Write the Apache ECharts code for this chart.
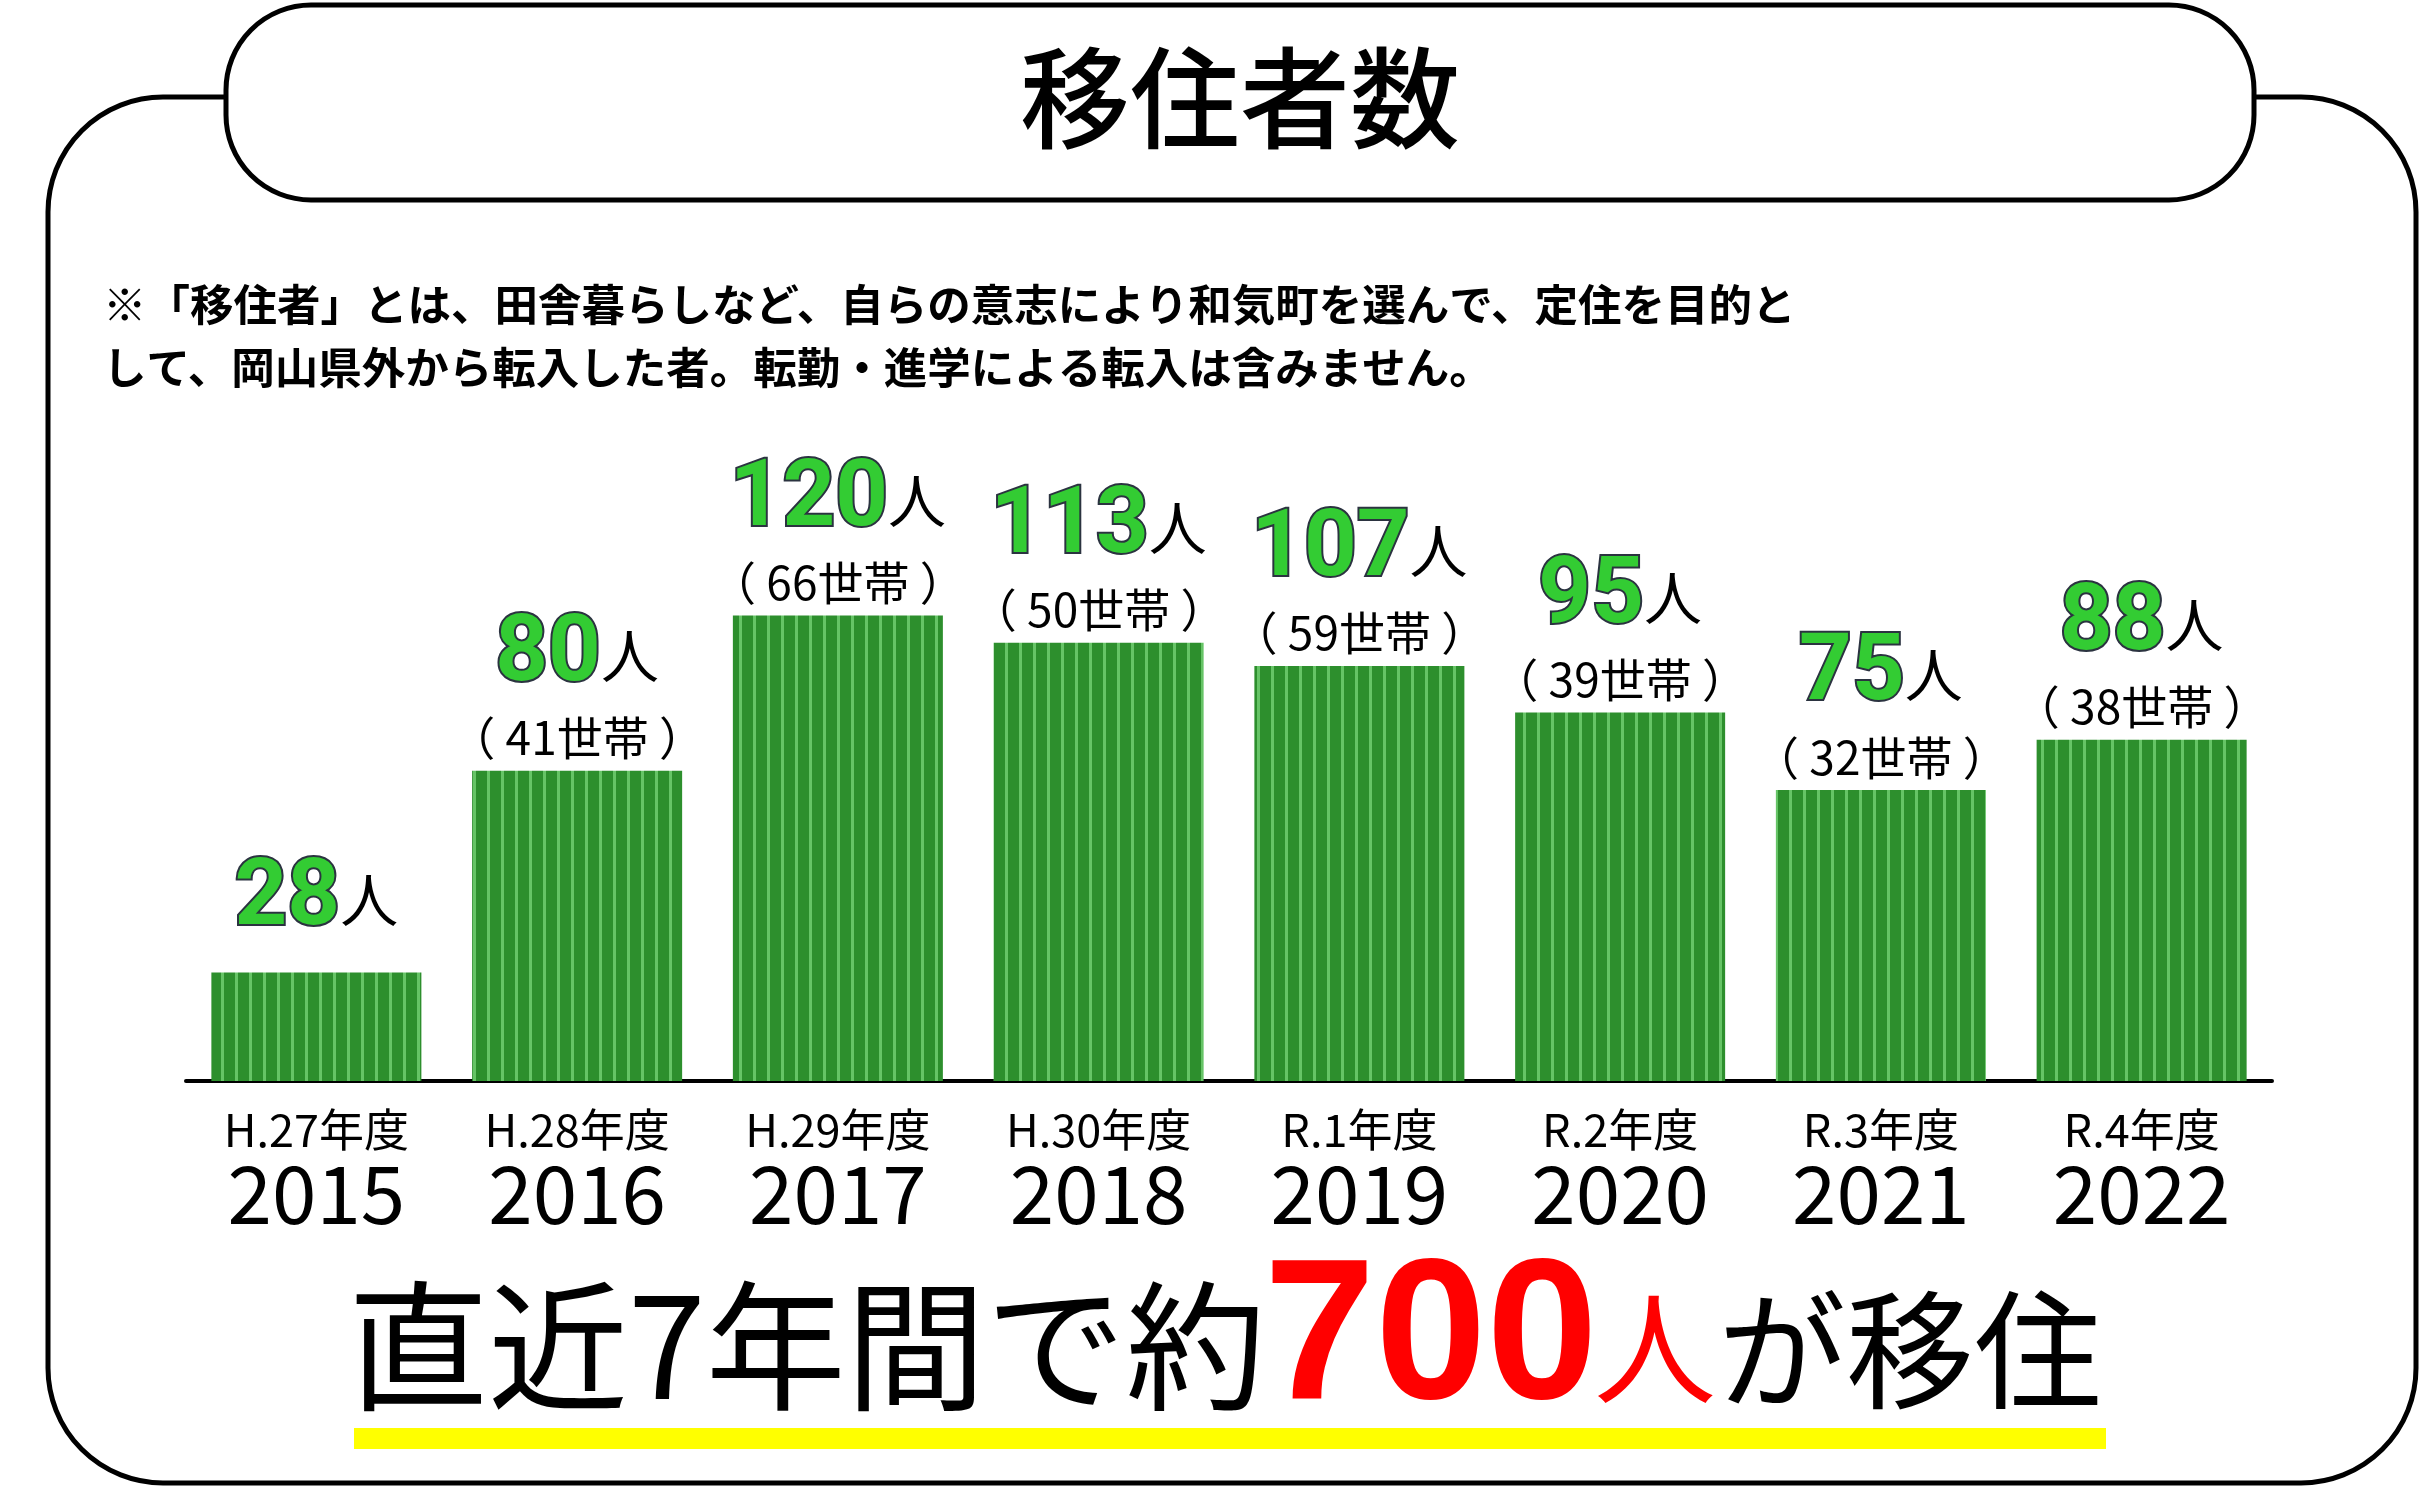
<!DOCTYPE html>
<html><head><meta charset="utf-8">
<script src="https://cdn.jsdelivr.net/npm/echarts@6/dist/echarts.min.js"></script>
<style>html,body{margin:0;padding:0;background:#fff}#c{width:2433px;height:1488px}</style>
</head><body><div id="c"></div>
<script>
const eraLabels = ['H.27年度','H.28年度','H.29年度','H.30年度','R.1年度','R.2年度','R.3年度','R.4年度'];
const years = ['2015','2016','2017','2018','2019','2020','2021','2022'];
const people = [28, 80, 120, 113, 107, 95, 75, 88];
const households = [null, 41, 66, 50, 59, 39, 32, 38];

const JP = '"Noto Sans CJK JP", sans-serif';

// striped bar fill
const pc = document.createElement('canvas');
pc.width = 14; pc.height = 8;
const g = pc.getContext('2d');
g.fillStyle = '#2d8f2d'; g.fillRect(0, 0, 14, 8);
g.fillStyle = '#66c466'; g.fillRect(11, 0, 3, 8);

const chart = echarts.init(document.getElementById('c'), null, {renderer: 'canvas'});

const barData = people.map((v, i) => households[i] == null
  ? {value: v, label: {distance: 13}}
  : {value: v});

const option = {
  animation: false,
  backgroundColor: '#ffffff',
  grid: {left: 186, right: 161, top: 538, bottom: 407},
  xAxis: {
    type: 'category',
    data: eraLabels,
    axisLine: {show: true, lineStyle: {color: '#000', width: 4}},
    axisTick: {show: false},
    axisLabel: {
      margin: 18,
      formatter: (val, idx) => '{a|' + val + '}\n{b|' + years[idx] + '}',
      rich: {
        a: {fontFamily: JP, fontSize: 45, lineHeight: 62, color: '#000'},
        b: {fontFamily: JP, fontSize: 80, lineHeight: 66, color: '#000'}
      }
    }
  },
  yAxis: {type: 'value', min: 0, max: 140, show: false, splitLine: {show: false}},
  series: [{
    type: 'bar',
    data: barData,
    barWidth: 210,
    itemStyle: {color: {image: pc, repeat: 'repeat'}},
    label: {
      show: true,
      position: 'top',
      distance: 10,
      formatter: (p) => {
        const h = households[p.dataIndex];
        let s = '{n|' + p.value + '}{p|人}';
        if (h != null) s += '\n{h|（ ' + h + '世帯 ）}';
        return s;
      },
      rich: {
        n: {fontFamily: 'Roboto, sans-serif', fontWeight: 'bold', fontSize: 92, color: '#33cc33',
            textBorderColor: '#2b3340', textBorderWidth: 4,
            height: 116, lineHeight: 120, verticalAlign: 'bottom'},
        p: {fontFamily: JP, fontSize: 58, color: '#000',
            height: 118, lineHeight: 120, verticalAlign: 'bottom'},
        h: {fontFamily: JP, fontSize: 46, color: '#000', lineHeight: 46}
      }
    }
  }],
  graphic: [
    {type: 'rect', z: 1, shape: {x: 48, y: 97, width: 2368, height: 1386, r: 115},
     style: {fill: 'transparent', stroke: '#000', lineWidth: 5}},
    {type: 'rect', z: 2, shape: {x: 226, y: 5, width: 2028, height: 195, r: 85},
     style: {fill: '#fff', stroke: '#000', lineWidth: 5}},
    {type: 'text', z: 3, x: 1240, y: 98,
     style: {text: '移住者数', fontFamily: JP, fontSize: 110, fontWeight: 500, fill: '#000',
             textAlign: 'center', textVerticalAlign: 'middle'}},
    {type: 'text', z: 3, x: 103, y: 304,
     style: {text: '※「移住者」とは、田舎暮らしなど、自らの意志により和気町を選んで、定住を目的と',
             fontFamily: JP, fontSize: 43.5, fontWeight: 'bold', fill: '#000',
             textAlign: 'left', textVerticalAlign: 'middle'}},
    {type: 'text', z: 3, x: 103, y: 367,
     style: {text: 'して、岡山県外から転入した者。転勤・進学による転入は含みません。',
             fontFamily: JP, fontSize: 43.5, fontWeight: 'bold', fill: '#000',
             textAlign: 'left', textVerticalAlign: 'middle'}},
    {type: 'rect', z: 2, shape: {x: 354, y: 1428, width: 1752, height: 21},
     style: {fill: '#ffff00'}},
    {type: 'text', z: 3, x: 348, y: 1346,
     style: {text: '直近7年間で約', fontFamily: JP, fontSize: 140, fill: '#000',
             textAlign: 'left', textVerticalAlign: 'middle'}},
    {type: 'text', z: 3, x: 1264, y: 1343,
     style: {text: '700', fontFamily: '"Liberation Sans", Arial, sans-serif', fontWeight: 'bold', fontSize: 200, fill: '#ff0000',
             textAlign: 'left', textVerticalAlign: 'middle'}},
    {type: 'text', z: 3, x: 1594, y: 1348,
     style: {text: '人', fontFamily: JP, fontSize: 122, fill: '#ff0000',
             textAlign: 'left', textVerticalAlign: 'middle'}},
    {type: 'text', z: 3, x: 1718, y: 1350,
     style: {text: 'が移住', fontFamily: JP, fontSize: 128, fill: '#000',
             textAlign: 'left', textVerticalAlign: 'middle'}}
  ]
};
chart.setOption(option);
</script>
</body></html>
